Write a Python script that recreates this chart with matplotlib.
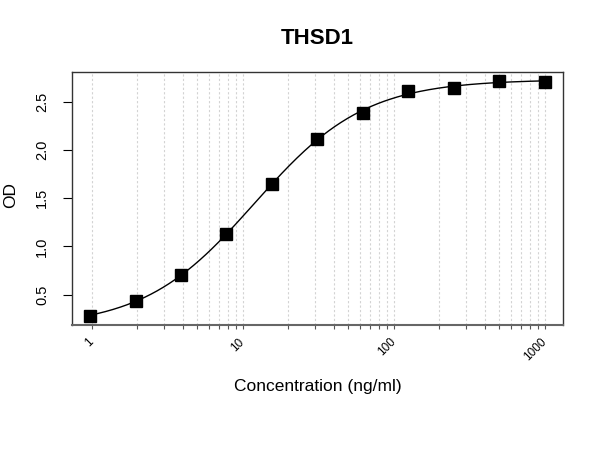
import numpy as np
import matplotlib
matplotlib.use("Agg")
import matplotlib.pyplot as plt

# standard curve data
conc = [0.977, 1.953, 3.906, 7.813, 15.625, 31.25, 62.5, 125, 250, 500, 1000]
od = [0.282, 0.434, 0.700, 1.125, 1.647, 2.118, 2.388, 2.609, 2.647, 2.712, 2.709]
xticks = [1, 10, 100, 1000]
title = "THSD1"
xlabel = "Concentration (ng/ml)"
ylabel = "OD"


def four_pl(x, p):
    a, b, logc, d = p
    return d + (a - d) / (1.0 + (x / 10 ** logc) ** b)


def fit_four_pl(x, y, p0, n_iter=100):
    """simple Gauss-Newton fit of the 4PL model"""
    p = np.array(p0, dtype=float)
    for _ in range(n_iter):
        r = y - four_pl(x, p)
        J = np.zeros((len(x), len(p)))
        for k in range(len(p)):
            dp = np.zeros_like(p)
            dp[k] = 1e-6
            J[:, k] = (four_pl(x, p + dp) - four_pl(x, p - dp)) / 2e-6
        step, *_ = np.linalg.lstsq(J, r, rcond=None)
        p = p + 0.5 * step
    return p


x = np.array(conc)
y = np.array(od)
params = fit_four_pl(x, y, [0.17, 1.2, np.log10(12.5), 2.75])

xs = np.logspace(np.log10(x.min()), np.log10(x.max()), 300)
ys = four_pl(xs, params)

plt.rcParams['font.family'] = ['Liberation Sans', 'DejaVu Sans']

fig = plt.figure(figsize=(6, 4.5), dpi=100)
ax = fig.add_axes([0.12, 0.278, 0.818, 0.562])

# vertical dotted grid at every log tick
grid_pos = [m * 10 ** e for e in range(0, 3) for m in range(1, 10)] + [1000]
for g in grid_pos:
    ax.axvline(g, color="#d3d3d3", linestyle=(0, (2, 2)), linewidth=0.8, zorder=0)

ax.plot(xs, ys, color="black", linewidth=1.0, zorder=2)
ax.plot(x, y, linestyle="none", marker="s", markersize=8.5,
        color="black", zorder=3)

ax.set_xscale("log")
lx = np.log10(x)
pad_x = (lx.max() - lx.min()) * 0.04
ax.set_xlim(10 ** (lx.min() - pad_x), 10 ** (lx.max() + pad_x))
pad_y = (y.max() - y.min()) * 0.04
ax.set_ylim(y.min() - pad_y, y.max() + pad_y)

ax.set_xticks(xticks)
ax.set_xticklabels([str(t) for t in xticks], rotation=45, fontsize=8.5,
                   ha="right", va="center", rotation_mode="anchor")
ax.set_xticks(grid_pos, minor=True)
ax.xaxis.set_minor_formatter(matplotlib.ticker.NullFormatter())
ax.tick_params(axis="x", which="both", length=3, width=0.8, color="#555555", pad=8)

ax.set_yticks([0.5, 1.0, 1.5, 2.0, 2.5])
ax.set_yticklabels(["0.5", "1.0", "1.5", "2.0", "2.5"], rotation=90,
                   va="center", fontsize=10.5)
ax.tick_params(axis="y", length=6.5, width=0.8, pad=10)

for s in ax.spines.values():
    s.set_color("#333333")
    s.set_linewidth(1.0)
ax.spines["bottom"].set_color("#666666")
ax.spines["bottom"].set_linewidth(1.5)

fig.text(0.529, 0.915, title, ha="center", va="center",
         fontsize=16, fontweight="bold")
fig.text(0.529, 0.14, xlabel, ha="center", va="center", fontsize=12.5)
fig.text(0.018, 0.567, ylabel, ha="center", va="center", rotation=90, fontsize=12.5)

fig.savefig("out.png", dpi=100)
